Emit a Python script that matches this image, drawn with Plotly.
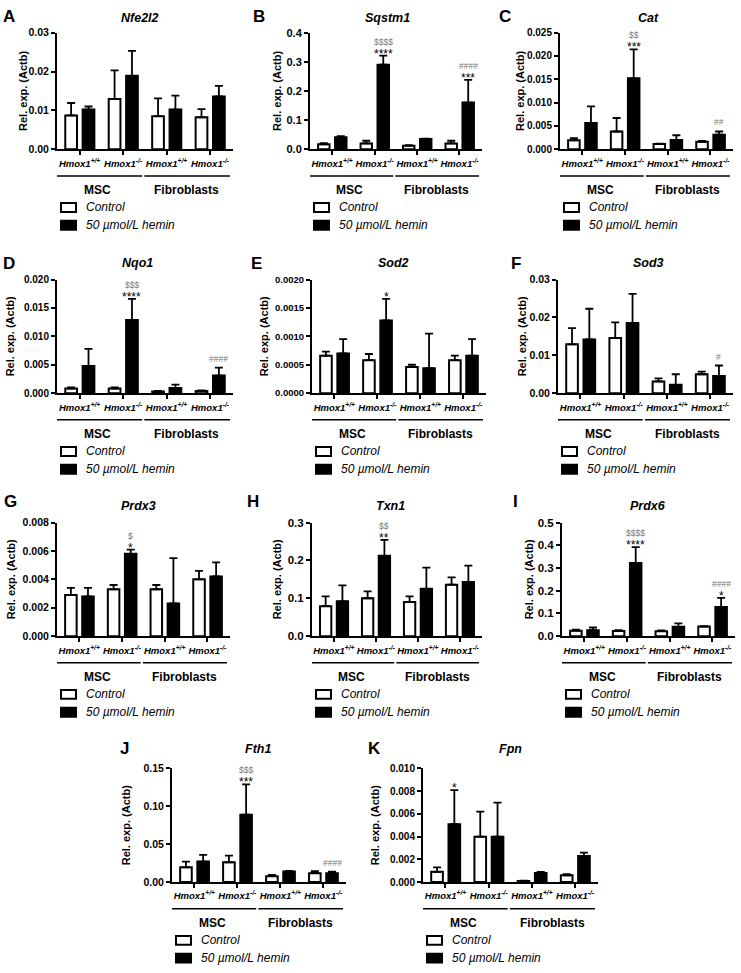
import plotly.graph_objects as go

W, H = 741, 973
FONT = "Liberation Sans, Arial, Helvetica, sans-serif"

# ---------------- data ----------------
genes = ["Nfe2l2", "Sqstm1", "Cat", "Nqo1", "Sod2", "Sod3", "Prdx3", "Txn1", "Prdx6", "Fth1", "Fpn"]
letters = ["A", "B", "C", "D", "E", "F", "G", "H", "I", "J", "K"]
group_labels = ["Hmox1<sup>+/+</sup>", "Hmox1<sup>-/-</sup>", "Hmox1<sup>+/+</sup>", "Hmox1<sup>-/-</sup>"]
cell_types = ["MSC", "Fibroblasts"]
series_names = ["Control", "50 µmol/L hemin"]
y_title = "Rel. exp. (Actb)"

nfe2l2_ctrl = [0.0087, 0.0129, 0.0085, 0.0082]
nfe2l2_ctrl_err = [0.0032, 0.0074, 0.0046, 0.0021]
nfe2l2_hemin = [0.0102, 0.0189, 0.0102, 0.0136]
nfe2l2_hemin_err = [0.0008, 0.0064, 0.0036, 0.0027]

sqstm1_ctrl = [0.017, 0.020, 0.012, 0.020]
sqstm1_ctrl_err = [0.004, 0.009, 0.002, 0.009]
sqstm1_hemin = [0.041, 0.290, 0.035, 0.160]
sqstm1_hemin_err = [0.004, 0.031, 0.001, 0.078]

cat_ctrl = [0.0019, 0.0038, 0.0011, 0.0016]
cat_ctrl_err = [0.0005, 0.0029, 0.0001, 0.0002]
cat_hemin = [0.0056, 0.0152, 0.0020, 0.0031]
cat_hemin_err = [0.0036, 0.0062, 0.0010, 0.0007]

nqo1_ctrl = [0.0008, 0.0008, 0.0003, 0.0004]
nqo1_ctrl_err = [0.0002, 0.0002, 0.0001, 0.0001]
nqo1_hemin = [0.0048, 0.0129, 0.0009, 0.0031]
nqo1_hemin_err = [0.0030, 0.0037, 0.0006, 0.0014]

sod2_ctrl = [0.00066, 0.00058, 0.00046, 0.00058]
sod2_ctrl_err = [0.00007, 0.00011, 0.00004, 0.00008]
sod2_hemin = [0.00070, 0.00128, 0.00044, 0.00066]
sod2_hemin_err = [0.00025, 0.00038, 0.00061, 0.00029]

sod3_ctrl = [0.0129, 0.0146, 0.0031, 0.0050]
sod3_ctrl_err = [0.0043, 0.0041, 0.0008, 0.0007]
sod3_hemin = [0.0142, 0.0185, 0.0022, 0.0045]
sod3_hemin_err = [0.0081, 0.0077, 0.0028, 0.0028]

prdx3_ctrl = [0.0029, 0.0033, 0.0033, 0.0040]
prdx3_ctrl_err = [0.0005, 0.0003, 0.0003, 0.0006]
prdx3_hemin = [0.0028, 0.0058, 0.0023, 0.0042]
prdx3_hemin_err = [0.0006, 0.0003, 0.0032, 0.0010]

txn1_ctrl = [0.079, 0.100, 0.090, 0.136]
txn1_ctrl_err = [0.026, 0.018, 0.015, 0.019]
txn1_hemin = [0.092, 0.212, 0.125, 0.143]
txn1_hemin_err = [0.042, 0.042, 0.056, 0.043]

prdx6_ctrl = [0.024, 0.023, 0.022, 0.042]
prdx6_ctrl_err = [0.004, 0.003, 0.003, 0.002]
prdx6_hemin = [0.026, 0.322, 0.041, 0.128]
prdx6_hemin_err = [0.012, 0.070, 0.015, 0.040]

fth1_ctrl = [0.0195, 0.026, 0.0078, 0.0117]
fth1_ctrl_err = [0.0075, 0.009, 0.0017, 0.0026]
fth1_hemin = [0.027, 0.089, 0.0139, 0.0117]
fth1_hemin_err = [0.009, 0.040, 0.0008, 0.0022]

fpn_ctrl = [0.0009, 0.0040, 0.0001, 0.0006]
fpn_ctrl_err = [0.0004, 0.0022, 0.00002, 0.0001]
fpn_hemin = [0.0051, 0.0040, 0.0008, 0.0023]
fpn_hemin_err = [0.0030, 0.0030, 0.0001, 0.0003]

y_max = [0.03, 0.4, 0.025, 0.020, 0.0020, 0.03, 0.008, 0.3, 0.5, 0.15, 0.010]
y_dtick = [0.01, 0.1, 0.005, 0.005, 0.0005, 0.01, 0.002, 0.1, 0.1, 0.05, 0.002]
y_format = [".2f", ".1f", ".3f", ".3f", ".4f", ".2f", ".3f", ".1f", ".1f", ".2f", ".3f"]

# significance: (panel index, group index, stars, second line)
significance = [
    (1, 1, "****", "$$$$"), (1, 3, "***", "####"),
    (2, 1, "***", "$$"), (2, 3, "", "##"),
    (3, 1, "****", "$$$"), (3, 3, "", "####"),
    (4, 1, "*", ""),
    (5, 3, "", "#"),
    (6, 1, "*", "$"),
    (7, 1, "**", "$$"),
    (8, 1, "****", "$$$$"), (8, 3, "*", "####"),
    (9, 1, "***", "$$$"), (9, 3, "", "####"),
    (10, 0, "*", ""),
]

ctrl_means = [nfe2l2_ctrl, sqstm1_ctrl, cat_ctrl, nqo1_ctrl, sod2_ctrl, sod3_ctrl,
              prdx3_ctrl, txn1_ctrl, prdx6_ctrl, fth1_ctrl, fpn_ctrl]
ctrl_errs = [nfe2l2_ctrl_err, sqstm1_ctrl_err, cat_ctrl_err, nqo1_ctrl_err, sod2_ctrl_err,
             sod3_ctrl_err, prdx3_ctrl_err, txn1_ctrl_err, prdx6_ctrl_err, fth1_ctrl_err, fpn_ctrl_err]
hemin_means = [nfe2l2_hemin, sqstm1_hemin, cat_hemin, nqo1_hemin, sod2_hemin, sod3_hemin,
               prdx3_hemin, txn1_hemin, prdx6_hemin, fth1_hemin, fpn_hemin]
hemin_errs = [nfe2l2_hemin_err, sqstm1_hemin_err, cat_hemin_err, nqo1_hemin_err, sod2_hemin_err,
              sod3_hemin_err, prdx3_hemin_err, txn1_hemin_err, prdx6_hemin_err, fth1_hemin_err,
              fpn_hemin_err]

# ---------------- layout (pixels) ----------------
# x0, x1, top, bottom, letter x, letter y, title x, title y, y-title offset, y tick size
panel_px = [
    (57, 233, 27, 145, 9, 11, 140, 12, -34, 10.5),
    (310, 482, 27, 145, 259, 11, 388, 12, -33, 11),
    (560, 733, 27, 145, 505, 11, 648, 12, -40, 10),
    (57, 233, 277, 392, 9, 261, 137, 260, -47, 10),
    (312, 486, 277, 392, 256, 261, 393, 260, -48, 9.5),
    (558, 733, 277, 392, 516, 261, 648, 260, -36, 10.5),
    (57, 230, 523, 638, 10, 502, 138, 506, -46, 10.5),
    (312, 482, 523, 638, 253, 502, 390, 506, -35, 11.5),
    (562, 735, 523, 638, 515, 502, 648, 506, -33, 11.5),
    (172, 346, 772, 887, 124, 752, 258, 752, -46, 10.5),
    (423, 598, 772, 887, 374, 752, 511, 752, -48, 10),
]

BAR_W = 0.27
OFFS = [-0.33, 0.07]
XR = [-0.52, 3.53]
FILLS = ["white", "black"]


def fx(px):
    return px / W


def fy(py):
    return 1 - py / H


fig = go.Figure()
ann = []
shapes = []

for i, (x0, x1, yt, yb, lx, ly, tx, ty, ytdx, yts) in enumerate(panel_px):
    n = "" if i == 0 else str(i + 1)
    xa, ya = "x" + n, "y" + n
    fig.update_layout({
        "xaxis" + n: dict(domain=[fx(x0), fx(x1)], anchor=ya, range=XR,
                          tickvals=[0, 1, 2, 3], ticktext=group_labels, tickangle=0,
                          showline=True, linecolor="black", linewidth=2,
                          ticks="outside", ticklen=4, tickwidth=2, tickcolor="black",
                          tickfont=dict(family=FONT, size=9.5, color="black",
                                        weight="bold", style="italic"),
                          showgrid=False, zeroline=False, fixedrange=True),
        "yaxis" + n: dict(domain=[fy(yb), fy(yt)], anchor=xa, range=[0, y_max[i]],
                          tick0=0, dtick=y_dtick[i], tickformat=y_format[i],
                          showline=True, linecolor="black", linewidth=2,
                          ticks="outside", ticklen=4, tickwidth=2, tickcolor="black",
                          tickfont=dict(family=FONT, size=yts, color="black", weight="bold"),
                          showgrid=False, zeroline=False, fixedrange=True),
    })
    series = [(ctrl_means[i], ctrl_errs[i]), (hemin_means[i], hemin_errs[i])]
    for s, (m, e) in enumerate(series):
        fig.add_trace(go.Bar(
            x=[0, 1, 2, 3], y=m, offset=OFFS[s], width=BAR_W, name=series_names[s],
            marker=dict(color=FILLS[s], line=dict(color="black", width=2)),
            error_y=dict(type="data", symmetric=False, array=e, arrayminus=[0] * 4,
                         color="black", thickness=1.8, width=4),
            xaxis=xa, yaxis=ya, showlegend=False, hoverinfo="skip"))

    # panel letter, gene title, y title
    ann.append(dict(x=fx(lx), y=fy(ly), xref="paper", yref="paper", text="<b>%s</b>" % letters[i],
                    showarrow=False, font=dict(family=FONT, size=17, color="black"),
                    xanchor="center", yanchor="middle"))
    ann.append(dict(x=fx(tx), y=fy(ty), xref="paper", yref="paper", text="<b><i>%s</i></b>" % genes[i],
                    showarrow=False, font=dict(family=FONT, size=12.5, color="black"),
                    xanchor="center", yanchor="middle"))
    ann.append(dict(x=fx(x0 + ytdx), y=fy((yt + yb) / 2), xref="paper", yref="paper",
                    text="<b>%s</b>" % y_title, textangle=-90, showarrow=False,
                    font=dict(family=FONT, size=11, color="black"),
                    xanchor="center", yanchor="middle"))

    # group lines and labels
    for (a, b, c), lab in zip([(-0.6, 1.44, 0.42), (1.49, 3.46, 2.47)], cell_types):
        shapes.append(dict(type="line", xref=xa, yref="paper", x0=a, x1=b,
                           y0=fy(yb + 27), y1=fy(yb + 27), line=dict(color="black", width=1.5)))
        ann.append(dict(x=c, y=fy(yb + 41), xref=xa, yref="paper", text="<b>%s</b>" % lab,
                        showarrow=False, font=dict(family=FONT, size=12, color="black"),
                        xanchor="center", yanchor="middle"))

    # legend
    for s, dy in enumerate([59, 77]):
        cy = yb + dy
        shapes.append(dict(type="rect", xref="paper", yref="paper",
                           x0=fx(x0 + 4), x1=fx(x0 + 19), y0=fy(cy + 4.5), y1=fy(cy - 4.5),
                           fillcolor=FILLS[s], line=dict(color="black", width=2)))
        ann.append(dict(x=fx(x0 + 27), y=fy(cy), xref="paper", yref="paper",
                        text="<i>%s</i>" % series_names[s], showarrow=False,
                        font=dict(family=FONT, size=12, color="black"),
                        xanchor="left", yanchor="middle"))

# significance marks
for (pi, g, stars, other) in significance:
    n = "" if pi == 0 else str(pi + 1)
    xc = g + OFFS[1] + BAR_W / 2
    yv = hemin_means[pi][g] + hemin_errs[pi][g]
    if stars:
        ann.append(dict(x=xc, y=yv, xref="x" + n, yref="y" + n, text=stars, showarrow=False,
                        font=dict(family=FONT, size=12, color="black"),
                        xanchor="center", yanchor="middle", yshift=2))
    if other:
        ann.append(dict(x=xc, y=yv, xref="x" + n, yref="y" + n, text=other, showarrow=False,
                        font=dict(family=FONT, size=8.5, color="#7a7a7a"),
                        xanchor="center", yanchor="middle", yshift=14 if stars else 9))

fig.update_layout(width=W, height=H, margin=dict(l=0, r=0, t=0, b=0),
                  paper_bgcolor="white", plot_bgcolor="white", barmode="overlay",
                  annotations=ann, shapes=shapes, font=dict(family=FONT, color="black"))

fig.write_html("out.html", config={"displayModeBar": False},
               post_script="document.body.style.margin='0px';")
